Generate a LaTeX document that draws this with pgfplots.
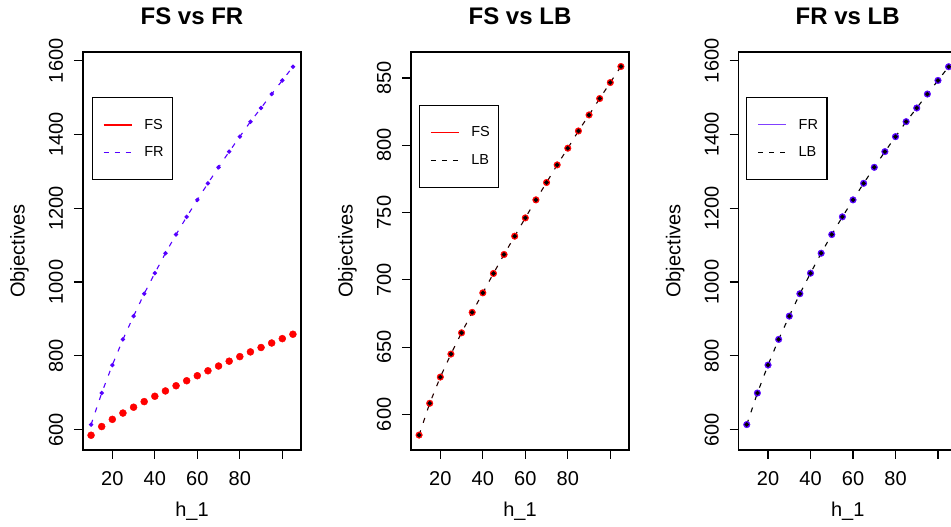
\documentclass[border=0pt]{standalone}
\usepackage{fontspec}
\setmainfont{Liberation Sans}
\usepackage{pgfplots}
\pgfplotsset{compat=1.18}
\usepackage{pgfplotstable}
\definecolor{frc}{RGB}{85,0,255}

\pgfplotstableread{
h FS FR
10 584.6 613.5
15 608.2 699.1
20 627.7 774.9
25 644.8 844.5
30 660.6 907.6
35 675.8 968.3
40 690.3 1024.1
45 704.7 1078.2
50 718.8 1128.8
55 732.4 1176.8
60 746.0 1222.8
65 759.4 1267.7
70 772.3 1311.1
75 785.4 1353.6
80 797.8 1394.2
85 810.6 1434.8
90 822.5 1471.9
95 834.7 1509.8
100 846.6 1546.7
105 858.5 1583.8
}\data

\pgfplotsset{
  rstyle/.style={
    scale only axis, width=218pt, height=398pt,
    xmin=6.2, xmax=108.8,
    axis line style={line width=1.1pt},
    tick style={line width=1.1pt, black},
    tick align=outside, major tick length=9pt,
    xtick pos=left, ytick pos=left,
    xtick={20,40,60,80,100}, xticklabels={20,40,60,80,{}},
    /pgf/number format/assume math mode=true,
    /pgf/number format/1000 sep={},
    ticklabel style={font=\fontsize{20}{24}\selectfont},
    xticklabel style={anchor=north, inner sep=0pt},
    yticklabel style={rotate=90, anchor=south, inner sep=0pt},
    xticklabel shift=12pt, yticklabel shift=10.7pt,
    every axis title/.style={at={(rel axis cs:0.5,1.0696)}, anchor=base, font=\bfseries\fontsize{24}{28}\selectfont},
    every axis x label/.style={at={(rel axis cs:0.5,-0.1676)}, anchor=base, font=\fontsize{20}{24}\selectfont},
    every axis y label/.style={at={(rel axis cs:-0.2913,0.5)}, rotate=90, anchor=center, font=\fontsize{20}{24}\selectfont},
    xlabel={h\_1}, ylabel={Objectives},
    legend style={draw=black, line width=1.1pt, font=\fontsize{14.5}{17}\selectfont, anchor=north west,
      inner xsep=7pt, inner ysep=19.6pt, row sep=11.9pt, column sep=10pt,
      nodes={inner sep=2pt}, cells={anchor=west}},
    legend image code/.code={\path (-3.6pt,0pt); \draw[##1] (0pt,0pt) -- (28pt,0pt);},
  }
}

\begin{document}
\begin{tikzpicture}
\useasboundingbox (0,0) rectangle (951pt,527pt);
\clip (0,0) rectangle (951pt,527pt);

% Panel 1
\begin{axis}[rstyle, at={(83pt,77pt)}, anchor=south west,
  ymin=544.6, ymax=1623.8, ytick={600,800,1000,1200,1400,1600},
  title={FS vs FR},
  legend style={at={(rel axis cs:0.040,0.887)}}]
\addplot[only marks, mark=*, mark size=3.5pt, red, forget plot] table[x=h,y=FS]{\data};
\addplot[frc, line width=1.1pt, dash pattern=on 5pt off 8pt, mark=*, mark size=1.6pt, mark options={solid}, forget plot] table[x=h,y=FR]{\data};
\addlegendimage{red, line width=1.5pt}
\addlegendentry{FS}
\addlegendimage{frc, line width=1.2pt, dash pattern=on 5pt off 6pt}
\addlegendentry{FR}
\end{axis}

% Panel 2
\begin{axis}[rstyle, at={(411pt,77pt)}, anchor=south west,
  ymin=573.5, ymax=869.3, ytick={600,650,700,750,800,850},
  title={FS vs LB},
  legend style={at={(rel axis cs:0.0368,0.8676)}}]
\addplot[only marks, mark=*, mark size=3.3pt, red, forget plot] table[x=h,y=FS]{\data};
\addplot[black!85!red, line width=1.1pt, dash pattern=on 5pt off 8pt, mark=*, mark size=1.6pt, mark options={solid, black}, forget plot] table[x=h,y=FS]{\data};
\addlegendimage{red, line width=1.2pt}
\addlegendentry{FS}
\addlegendimage{black, line width=1.2pt, dash pattern=on 5pt off 6pt}
\addlegendentry{LB}
\end{axis}

% Panel 3
\begin{axis}[rstyle, at={(738.7pt,77pt)}, anchor=south west,
  ymin=544.6, ymax=1623.8, ytick={600,800,1000,1200,1400,1600},
  title={FR vs LB},
  legend style={at={(rel axis cs:0.035,0.887)}}]
\addplot[only marks, mark=*, mark size=3.3pt, frc, forget plot] table[x=h,y=FR]{\data};
\addplot[black, line width=1.1pt, dash pattern=on 5pt off 8pt, mark=*, mark size=1.6pt, mark options={solid}, forget plot] table[x=h,y=FR]{\data};
\addlegendimage{frc!75!white, line width=1.2pt}
\addlegendentry{FR}
\addlegendimage{black, line width=1.2pt, dash pattern=on 5pt off 6pt}
\addlegendentry{LB}
\end{axis}
\end{tikzpicture}
\end{document}
